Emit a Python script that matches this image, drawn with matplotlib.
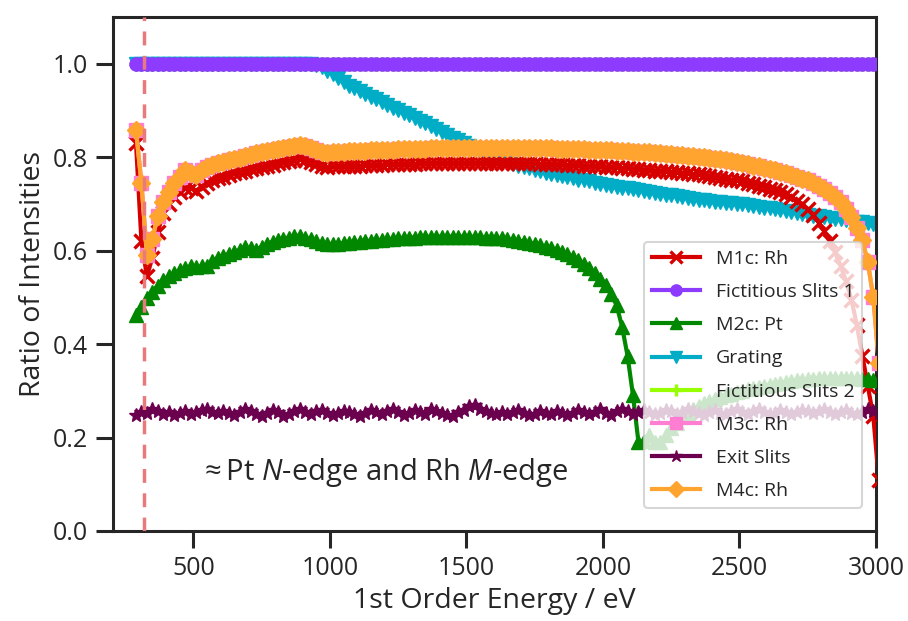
import numpy as np
import matplotlib
matplotlib.use('Agg')
import matplotlib.pyplot as plt

# energy grid (eV), 20 eV steps
energy = np.arange(290, 3011, 20)

m1c_ratio = [
    0.83, 0.62, 0.545, 0.585, 0.64, 0.68, 0.70, 0.715, 0.725, 0.733,
    0.735, 0.728, 0.737, 0.745, 0.75, 0.755, 0.758, 0.762, 0.765, 0.768,
    0.771, 0.774, 0.777, 0.779, 0.782, 0.784, 0.787, 0.789, 0.791, 0.793,
    0.796, 0.794, 0.79, 0.786, 0.782, 0.779, 0.78, 0.78, 0.781, 0.781,
    0.782, 0.782, 0.783, 0.783, 0.784, 0.784, 0.785, 0.785, 0.785, 0.786,
    0.786, 0.786, 0.787, 0.787, 0.787, 0.787, 0.788, 0.788, 0.788, 0.788,
    0.788, 0.788, 0.788, 0.788, 0.788, 0.788, 0.788, 0.788, 0.788, 0.788,
    0.788, 0.787, 0.787, 0.787, 0.786, 0.786, 0.785, 0.785, 0.785, 0.784,
    0.784, 0.783, 0.782, 0.781, 0.781, 0.78, 0.779, 0.778, 0.778, 0.777,
    0.776, 0.775, 0.774, 0.773, 0.772, 0.771, 0.77, 0.77, 0.769, 0.768,
    0.767, 0.766, 0.764, 0.763, 0.761, 0.759, 0.758, 0.756, 0.754, 0.752,
    0.75, 0.748, 0.745, 0.742, 0.739, 0.736, 0.732, 0.729, 0.725, 0.721,
    0.714, 0.707, 0.699, 0.689, 0.676, 0.66, 0.642, 0.62, 0.596, 0.568,
    0.535, 0.495, 0.44, 0.375, 0.31, 0.245, 0.11,
]

fict_slits1_ratio = [1.0] * len(energy)
fict_slits2_ratio = [1.0] * len(energy)

m2c_ratio = [
    0.462, 0.48, 0.498, 0.512, 0.525, 0.537, 0.545, 0.552, 0.558, 0.563,
    0.566, 0.565, 0.566, 0.568, 0.578, 0.585, 0.589, 0.593, 0.597, 0.601,
    0.607, 0.605, 0.601, 0.608, 0.614, 0.619, 0.622, 0.625, 0.628, 0.631,
    0.632, 0.628, 0.624, 0.62, 0.616, 0.614, 0.614, 0.615, 0.616, 0.617,
    0.618, 0.619, 0.62, 0.621, 0.622, 0.623, 0.624, 0.625, 0.626, 0.627,
    0.628, 0.628, 0.629, 0.629, 0.63, 0.63, 0.63, 0.63, 0.63, 0.63,
    0.63, 0.63, 0.629, 0.629, 0.628, 0.628, 0.627, 0.626, 0.624, 0.623,
    0.621, 0.619, 0.617, 0.614, 0.611, 0.608, 0.605, 0.601, 0.597, 0.592,
    0.586, 0.579, 0.571, 0.562, 0.552, 0.54, 0.526, 0.507, 0.483, 0.437,
    0.375, 0.29, 0.19, 0.193, 0.205, 0.19, 0.19, 0.205, 0.22, 0.232,
    0.243, 0.252, 0.26, 0.267, 0.273, 0.278, 0.283, 0.287, 0.291, 0.294,
    0.297, 0.3, 0.303, 0.306, 0.309, 0.311, 0.313, 0.315, 0.317, 0.319,
    0.321, 0.323, 0.324, 0.325, 0.326, 0.327, 0.327, 0.328, 0.328, 0.328,
    0.328, 0.327, 0.327, 0.326, 0.325, 0.324, 0.323,
]

grating_ratio = [
    1.0, 1.0, 1.0, 1.0, 1.0, 1.0, 1.0, 1.0, 1.0, 1.0,
    1.0, 1.0, 1.0, 1.0, 1.0, 1.0, 1.0, 1.0, 1.0, 1.0,
    1.0, 1.0, 1.0, 1.0, 1.0, 1.0, 1.0, 1.0, 1.0, 1.0,
    1.0, 1.0, 1.0, 0.998, 0.992, 0.985, 0.977, 0.969, 0.961, 0.953,
    0.947, 0.941, 0.935, 0.929, 0.924, 0.918, 0.912, 0.906, 0.901, 0.895,
    0.89, 0.884, 0.878, 0.872, 0.866, 0.86, 0.854, 0.848, 0.842, 0.836,
    0.83, 0.824, 0.818, 0.812, 0.807, 0.802, 0.798, 0.794, 0.79, 0.786,
    0.782, 0.779, 0.776, 0.773, 0.77, 0.767, 0.764, 0.761, 0.759, 0.757,
    0.755, 0.752, 0.75, 0.748, 0.745, 0.743, 0.741, 0.739, 0.737, 0.735,
    0.733, 0.731, 0.729, 0.727, 0.725, 0.723, 0.721, 0.72, 0.718, 0.717,
    0.714, 0.712, 0.711, 0.709, 0.708, 0.706, 0.705, 0.703, 0.702, 0.701,
    0.7, 0.699, 0.697, 0.696, 0.694, 0.692, 0.691, 0.689, 0.687, 0.685,
    0.683, 0.681, 0.679, 0.677, 0.675, 0.673, 0.671, 0.669, 0.668, 0.667,
    0.665, 0.664, 0.662, 0.661, 0.659, 0.657, 0.655,
]

m4c_ratio = [
    0.858, 0.745, 0.59, 0.625, 0.675, 0.705, 0.725, 0.745, 0.758, 0.772,
    0.765, 0.762, 0.772, 0.778, 0.783, 0.787, 0.79, 0.793, 0.796, 0.799,
    0.802, 0.805, 0.808, 0.81, 0.813, 0.815, 0.817, 0.819, 0.821, 0.823,
    0.826, 0.824, 0.82, 0.816, 0.812, 0.809, 0.81, 0.811, 0.812, 0.813,
    0.813, 0.814, 0.814, 0.815, 0.815, 0.816, 0.816, 0.816, 0.817, 0.817,
    0.817, 0.818, 0.818, 0.818, 0.819, 0.819, 0.819, 0.819, 0.82, 0.82,
    0.82, 0.82, 0.82, 0.82, 0.82, 0.82, 0.82, 0.82, 0.82, 0.82,
    0.82, 0.82, 0.82, 0.819, 0.819, 0.819, 0.819, 0.818, 0.818, 0.818,
    0.818, 0.817, 0.817, 0.816, 0.816, 0.816, 0.815, 0.815, 0.814, 0.814,
    0.813, 0.812, 0.812, 0.811, 0.81, 0.809, 0.808, 0.807, 0.806, 0.805,
    0.804, 0.803, 0.802, 0.801, 0.8, 0.798, 0.797, 0.795, 0.793, 0.791,
    0.789, 0.787, 0.785, 0.782, 0.78, 0.777, 0.775, 0.772, 0.769, 0.766,
    0.762, 0.758, 0.754, 0.75, 0.745, 0.739, 0.732, 0.724, 0.715, 0.703,
    0.688, 0.671, 0.648, 0.622, 0.575, 0.50, 0.36,
]

m3c_ratio = list(m4c_ratio)

exit_slits_ratio = [
    0.248, 0.255, 0.252, 0.26, 0.256, 0.251, 0.254, 0.249, 0.253, 0.257,
    0.25, 0.254, 0.258, 0.262, 0.255, 0.252, 0.257, 0.253, 0.249, 0.255,
    0.26, 0.256, 0.251, 0.247, 0.253, 0.258, 0.254, 0.246, 0.251, 0.257,
    0.261, 0.255, 0.25, 0.256, 0.259, 0.253, 0.248, 0.252, 0.257, 0.254,
    0.25, 0.245, 0.253, 0.258, 0.255, 0.251, 0.257, 0.26, 0.254, 0.249,
    0.253, 0.258, 0.254, 0.25, 0.262, 0.256, 0.252, 0.248, 0.246, 0.255,
    0.259, 0.268, 0.27, 0.262, 0.256, 0.252, 0.25, 0.254, 0.251, 0.255,
    0.258, 0.253, 0.249, 0.251, 0.256, 0.252, 0.25, 0.257, 0.253, 0.249,
    0.252, 0.258, 0.255, 0.25, 0.254, 0.26, 0.253, 0.249, 0.256, 0.262,
    0.257, 0.251, 0.255, 0.259, 0.254, 0.25, 0.253, 0.258, 0.256, 0.251,
    0.254, 0.26, 0.257, 0.252, 0.248, 0.255, 0.259, 0.253, 0.25, 0.256,
    0.261, 0.255, 0.251, 0.256, 0.26, 0.254, 0.25, 0.253, 0.258, 0.255,
    0.25, 0.254, 0.259, 0.256, 0.252, 0.257, 0.261, 0.255, 0.251, 0.254,
    0.258, 0.253, 0.25, 0.255, 0.26, 0.256, 0.252,
]

edge_energy = 320

plt.rcParams['font.family'] = ['Open Sans', 'DejaVu Sans']
plt.rcParams['mathtext.fontset'] = 'custom'
plt.rcParams['mathtext.rm'] = 'Open Sans'
plt.rcParams['mathtext.it'] = 'Open Sans:italic'
plt.rcParams['text.color'] = '#262626'
plt.rcParams['axes.labelcolor'] = '#262626'
plt.rcParams['xtick.color'] = '#262626'
plt.rcParams['ytick.color'] = '#262626'

fig = plt.figure(figsize=(9.08, 6.21), dpi=100)
ax = fig.add_axes([0.1245, 0.145, 0.8403, 0.8277])

ms = 9.5
lw = 3
ax.plot(energy, m1c_ratio, marker='x', color='#d60000', ms=ms, lw=lw, mew=2.4,
        label='M1c: Rh', zorder=3)
ax.plot(energy, fict_slits1_ratio, marker='o', color='#8c3bff', ms=ms, lw=lw,
        label='Fictitious Slits 1', zorder=4)
ax.plot(energy, m2c_ratio, marker='^', color='#018700', ms=ms, lw=lw,
        label='M2c: Pt', zorder=3)
ax.plot(energy, grating_ratio, marker='v', color='#00acc6', ms=ms, lw=lw,
        label='Grating', zorder=2.5)
ax.plot(energy, fict_slits2_ratio, marker='+', color='#97ff00', ms=ms, lw=lw,
        mew=2.4, label='Fictitious Slits 2', zorder=2)
ax.plot(energy, m3c_ratio, marker='s', color='#ff7ed1', ms=ms, lw=lw,
        label='M3c: Rh', zorder=3)
ax.plot(energy, exit_slits_ratio, marker='*', color='#6b004f', ms=ms + 1, lw=lw,
        label='Exit Slits', zorder=3)
ax.plot(energy, m4c_ratio, marker='D', color='#ffa52f', ms=ms, lw=lw,
        label='M4c: Rh', zorder=3)

ax.axvline(edge_energy, color='#e8797c', ls='--', lw=2.5, dashes=(4, 3), zorder=5)
ax.text(520, 0.125, r'$\approx$Pt $N$-edge and Rh $M$-edge', fontsize=21,
        va='center', ha='left')

ax.set_xlim(206, 3000)
ax.set_ylim(0, 1.1)
ax.set_xticks([500, 1000, 1500, 2000, 2500, 3000])
ax.set_yticks([0.0, 0.2, 0.4, 0.6, 0.8, 1.0])
ax.set_xlabel('1st Order Energy / eV', fontsize=20.5)
ax.set_ylabel('Ratio of Intensities', fontsize=20.5)
ax.tick_params(labelsize=18, length=12, width=2.2, pad=6)
for sp in ax.spines.values():
    sp.set_linewidth(2.2)
    sp.set_color('#262626')

leg = ax.legend(loc='lower right', bbox_to_anchor=(0.982, 0.045), borderaxespad=0,
                fontsize=14, labelspacing=0.78, handlelength=2.5, markerscale=0.85,
                framealpha=0.8, edgecolor='#cccccc', fancybox=True)
leg.get_frame().set_linewidth(1.5)

fig.savefig('out.png', dpi=100)
